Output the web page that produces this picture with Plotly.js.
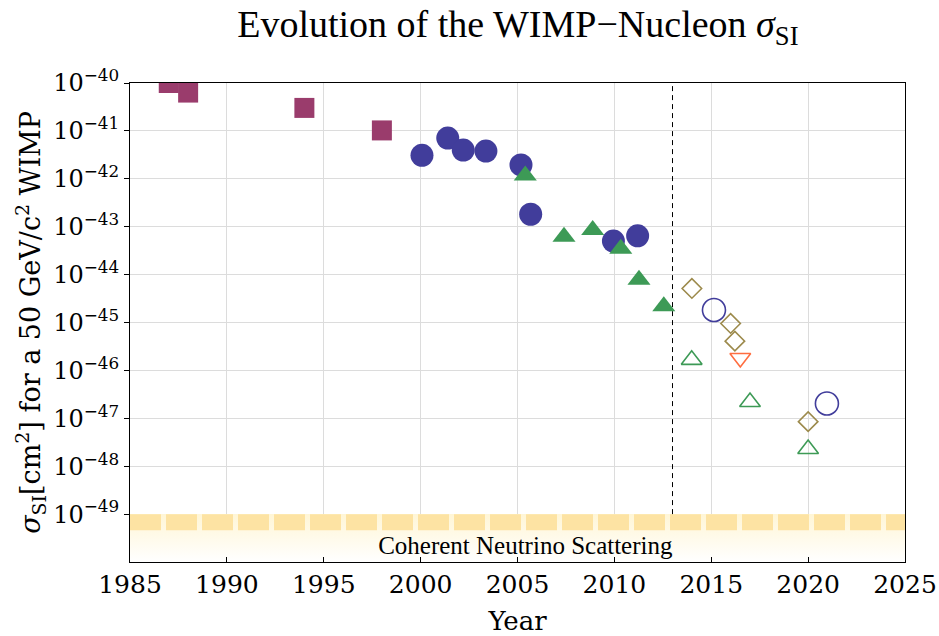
<!DOCTYPE html>
<html><head><meta charset="utf-8">
<script src="https://cdn.plot.ly/plotly-3.0.1.min.js"></script>
<style>body{margin:0;background:#fff}#c{width:939px;height:636px}</style>
</head><body><div id="c"></div>
<script>
// Data (year, log10 cross-section)
const sqYears = [1987, 1988, 1994, 1998];
const sqLog = [-40.0, -40.2, -40.52, -40.99];

const circYears = [2000.07, 2001.4, 2002.2, 2003.37, 2005.18, 2005.68, 2009.95, 2011.2];
const circLog = [-41.51, -41.15, -41.40, -41.42, -41.71, -42.74, -43.30, -43.19];

const triYears = [2005.4, 2007.4, 2008.88, 2010.33, 2011.27, 2012.55];
const triLog = [-41.93, -43.21, -43.07, -43.46, -44.11, -44.66];

const diaYears = [2014.0, 2016.0, 2016.22, 2020.0];
const diaLog = [-44.29, -45.02, -45.39, -47.07];

const openCircYears = [2015.14, 2020.97];
const openCircLog = [-44.74, -46.69];

const downYears = [2016.5];
const downLog = [-45.74];

const openTriYears = [2013.99, 2017.0, 2020.0];
const openTriLog = [-45.78, -46.66, -47.64];

const floorYears = [1985, 2025];
const floorValue = 1e-49;
const floorBottom = 1e-50;
const bandLog = -49.17;
const markerYear = 2013;
const yTickPowers = [-49, -48, -47, -46, -45, -44, -43, -42, -41, -40];

const p = a => a.map(v => Math.pow(10, v));
const serif = "Liberation Serif";
const school = "DejaVu Serif";

const traces = [
  {x: [floorYears[0], floorYears[1], floorYears[1], floorYears[0], floorYears[0]],
   y: [floorBottom, floorBottom, floorValue, floorValue, floorBottom],
   mode: 'lines', fill: 'toself', line: {width: 0, color: 'rgba(0,0,0,0)'},
   fillgradient: {type: 'vertical', colorscale: [[0, '#ffffff'], [1, '#fff6d6']]},
   hoverinfo: 'skip'},
  {x: floorYears, y: [Math.pow(10, bandLog), Math.pow(10, bandLog)], mode: 'lines',
   line: {color: '#fde3a3', width: 16, dash: '31px,5px'}, hoverinfo: 'skip'},
  {x: [markerYear, markerYear], y: [floorValue, 1e-40], mode: 'lines',
   line: {color: '#000', width: 1, dash: '5px,4px'}, hoverinfo: 'skip'},
  {x: [markerYear], y: [Math.pow(10, -49.7)], mode: 'text',
   text: ['Coherent Neutrino Scattering'], textposition: 'middle left',
   textfont: {family: serif, size: 25, color: '#000'}, hoverinfo: 'skip'},
  {x: sqYears, y: p(sqLog), mode: 'markers',
   marker: {symbol: 'square', size: 20, color: '#9a3c6c'}},
  {x: circYears, y: p(circLog), mode: 'markers',
   marker: {symbol: 'circle', size: 23, color: '#413d9b'}},
  {x: triYears, y: p(triLog), mode: 'markers',
   marker: {symbol: 'triangle-up', size: 20, color: '#3d9a56'}},
  {x: diaYears, y: p(diaLog), mode: 'markers',
   marker: {symbol: 'diamond-open', size: 15, color: '#9c8a4c', line: {width: 1.6}}},
  {x: openCircYears, y: p(openCircLog), mode: 'markers',
   marker: {symbol: 'circle-open', size: 23, color: '#413d9b', line: {width: 1.6}}},
  {x: downYears, y: p(downLog), mode: 'markers',
   marker: {symbol: 'triangle-down-open', size: 18, color: '#ff6d3f', line: {width: 1.6}}},
  {x: openTriYears, y: p(openTriLog), mode: 'markers',
   marker: {symbol: 'triangle-up-open', size: 18, color: '#3d9a56', line: {width: 1.6}}}
];

const layout = {
  width: 939, height: 636,
  margin: {l: 130, r: 34, t: 83, b: 74},
  paper_bgcolor: '#fff', plot_bgcolor: '#fff',
  showlegend: false,
  title: {text: 'Evolution of the WIMP\u2212Nucleon <i>σ</i><sub>SI</sub>',
          font: {family: serif, size: 38, color: '#000'},
          x: 0.5515, xanchor: 'center', y: 0.962, yanchor: 'middle'},
  xaxis: {range: [1985, 2025], dtick: 5, tick0: 1985, showgrid: true, gridcolor: '#dcdcdc',
          ticks: 'inside', ticklen: 5, tickcolor: '#000', showline: true, mirror: true,
          linecolor: '#000', linewidth: 1, zeroline: false,
          tickfont: {family: school, size: 25, color: '#000'},
          title: {text: 'Year', font: {family: school, size: 26, color: '#000'}, standoff: 14}},
  yaxis: {type: 'log', range: [-50, -40], tickvals: p(yTickPowers),
          ticktext: yTickPowers.map(v => '10<sup>\u2212' + Math.abs(v) + '</sup>'),
          showgrid: true, gridcolor: '#dcdcdc',
          ticks: 'outside', ticklen: 5, tickcolor: '#000', showline: true, mirror: true,
          linecolor: '#000', linewidth: 1, zeroline: false,
          tickfont: {family: school, size: 24, color: '#000'},
          title: {text: '<i>σ</i><sub>SI</sub>[cm<sup>2</sup>] for a 50 GeV/c<sup>2</sup> WIMP',
                  font: {family: school, size: 27, color: '#000'}, standoff: 4}}
};

Plotly.newPlot('c', traces, layout, {displayModeBar: false, staticPlot: true});
</script></body></html>
